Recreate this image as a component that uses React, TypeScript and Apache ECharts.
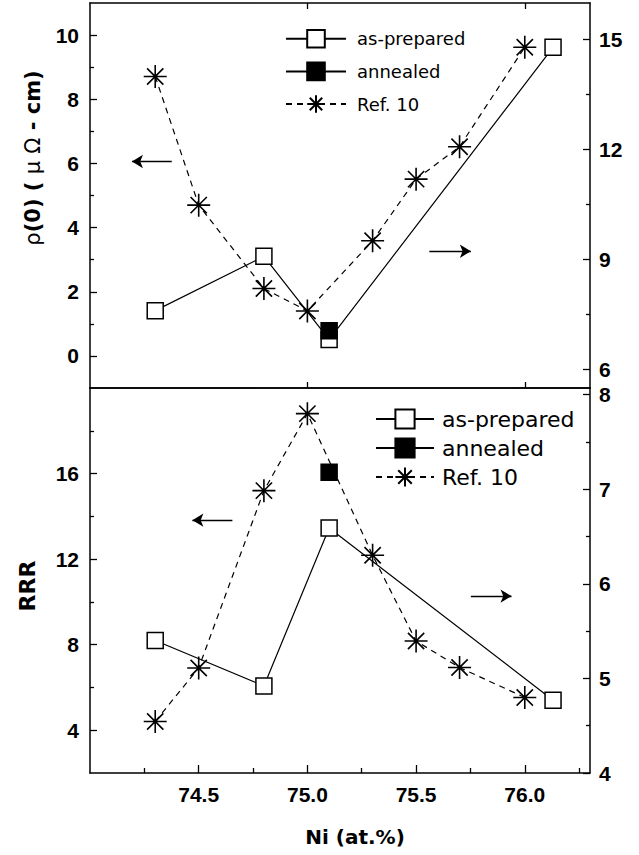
import React, { useEffect, useRef } from "react";
import * as echarts from "echarts";

// ---- data ----
const ref10X = [74.3, 74.5, 74.8, 75.0, 75.3, 75.5, 75.7, 76.0];
const ref10Rho = [8.71, 4.7, 2.1, 1.4, 3.59, 5.51, 6.52, 9.62];
const ref10RRR = [4.41, 6.91, 15.2, 18.8, 12.18, 8.17, 6.93, 5.53];

const prepX = [74.3, 74.8, 75.1, 76.13];
const prepRho = [7.61, 9.09, 6.82, 14.79]; // right axis (top)
const prepRRR = [5.4, 4.92, 6.59, 4.77]; // right axis (bottom)

const annX = [75.1];
const annRho = [7.06];
const annRRR = [7.18];

const xLabels = [74.5, 75.0, 75.5, 76.0];
const xMinor = [74.25, 74.75, 75.25, 75.75, 76.25];
const topXTicks = [75.0, 76.0];
const rhoLabels = [0, 2, 4, 6, 8, 10];
const rhoMinor = [1, 3, 5, 7, 9];
const rhoRightLabels = [6, 9, 12, 15];
const rhoRightMinor = [7.5, 10.5, 13.5];
const rrrLabels = [4, 8, 12, 16];
const rrrMinor = [6, 10, 14, 18];
const rrrRightLabels = [4, 5, 6, 7, 8];
const rrrRightMinor = [4.5, 5.5, 6.5, 7.5];

// arrows [x1, x2, y] (from tail to head)
const arrowTopLeft = [74.376, 74.193, 6.06];
const arrowTopRight = [75.561, 75.752, 9.23];
const arrowBotLeft = [74.655, 74.471, 13.82];
const arrowBotRight = [75.752, 75.939, 5.87];

const STAR = "path://M0,-1L0,1M-1,0L1,0M-0.7071,-0.7071L0.7071,0.7071M-0.7071,0.7071L0.7071,-0.7071";

const zip = (xs: number[], ys: number[]) => xs.map((x, i) => [x, ys[i]]);

const TICK_FONT = "Liberation Sans";
const TITLE_FONT = "DejaVu Sans";

function xAxisDef(grid: number, position: string, ticks: number[], len: number, labels: number[] | null, showLine: boolean) {
  return {
    type: "value",
    gridIndex: grid,
    position,
    min: 74,
    max: 76.3,
    axisLine: { show: showLine, onZero: false, lineStyle: { color: "#000", width: 1.5 } },
    axisTick: { show: ticks.length > 0, inside: true, length: len, customValues: ticks, lineStyle: { color: "#000", width: 1.3 } },
    axisLabel: labels
      ? {
          show: true,
          customValues: labels,
          margin: 11,
          color: "#000",
          fontFamily: TICK_FONT,
          fontWeight: "bold",
          fontSize: 21,
          formatter: (v: number) => v.toFixed(1),
        }
      : { show: false },
    splitLine: { show: false },
    minorTick: { show: false },
  };
}

function yAxisDef(grid: number, position: string, min: number, max: number, ticks: number[], len: number, labels: number[] | null, showLine: boolean) {
  return {
    type: "value",
    gridIndex: grid,
    position,
    min,
    max,
    axisLine: { show: showLine, onZero: false, lineStyle: { color: "#000", width: 1.5 } },
    axisTick: { show: true, inside: true, length: len, customValues: ticks, lineStyle: { color: "#000", width: 1.3 } },
    axisLabel: labels
      ? {
          show: true,
          customValues: labels,
          margin: position === "left" ? 11 : 9,
          color: "#000",
          fontFamily: TICK_FONT,
          fontWeight: "bold",
          fontSize: 21,
        }
      : { show: false },
    splitLine: { show: false },
    minorTick: { show: false },
  };
}

const prepStyle = {
  symbol: "rect",
  symbolSize: 16,
  itemStyle: { color: "#fff", borderColor: "#000", borderWidth: 1.5 },
  lineStyle: { color: "#000", width: 1.2, type: "solid" },
};
const annStyle = {
  symbol: "rect",
  symbolSize: 16,
  itemStyle: { color: "#000", borderColor: "#000", borderWidth: 1.5 },
  lineStyle: { color: "#000", width: 1.2, type: "solid" },
};
const refStyle = {
  symbol: STAR,
  symbolSize: 23,
  itemStyle: { color: "#000", borderColor: "#000", borderWidth: 1.6 },
  lineStyle: { color: "#000", width: 1.2, type: [6, 5] },
};

function arrowMark(a: number[]) {
  return {
    silent: true,
    symbol: ["none", "arrow"],
    symbolSize: [10, 11],
    label: { show: false },
    emphasis: { disabled: true },
    lineStyle: { color: "#000", width: 1.3, type: "solid" },
    data: [[{ coord: [a[0], a[2]] }, { coord: [a[1], a[2]] }]],
  };
}

export default function App() {
  const ref = useRef<HTMLDivElement>(null);
  useEffect(() => {
    if (!ref.current) return;
    const chart = echarts.init(ref.current, null, { renderer: "svg" });
    const option: any = {
      animation: false,
      backgroundColor: "#fff",
      grid: [
        { left: 90, top: 3, width: 500, height: 385 },
        { left: 90, top: 388, width: 500, height: 385 },
      ],
      xAxis: [
        xAxisDef(0, "bottom", topXTicks, 6, null, true),
        xAxisDef(0, "top", topXTicks, 6, null, true),
        xAxisDef(1, "bottom", xLabels, 8, xLabels, true),
        xAxisDef(1, "bottom", xMinor, 5, null, false),
        xAxisDef(1, "top", [], 0, null, true),
      ],
      yAxis: [
        yAxisDef(0, "left", -1, 11, rhoLabels, 7, rhoLabels, true),
        yAxisDef(0, "right", 5.5, 16, rhoRightLabels, 7, rhoRightLabels, true),
        yAxisDef(0, "left", -1, 11, rhoMinor, 4, null, false),
        yAxisDef(0, "right", 5.5, 16, rhoRightMinor, 4, null, false),
        yAxisDef(1, "left", 2, 20, rrrLabels, 7, rrrLabels, true),
        yAxisDef(1, "right", 4, 8.07, rrrRightLabels, 7, rrrRightLabels, true),
        yAxisDef(1, "left", 2, 20, rrrMinor, 4, null, false),
        yAxisDef(1, "right", 4, 8.07, rrrRightMinor, 4, null, false),
      ],
      legend: [
        {
          orient: "vertical",
          left: 280,
          top: 24,
          itemWidth: 60,
          itemHeight: 22,
          itemGap: 13,
          selectedMode: false,
          data: ["as-prepared", "annealed", "Ref. 10"],
          textStyle: { fontFamily: TITLE_FONT, fontSize: 18, color: "#000", padding: [0, 0, 0, 6] },
        },
        {
          orient: "vertical",
          left: 370,
          top: 403,
          itemWidth: 58,
          itemHeight: 24,
          itemGap: 7,
          selectedMode: false,
          data: ["as-prepared", "annealed", "Ref. 10"],
          textStyle: { fontFamily: TITLE_FONT, fontSize: 22, color: "#000", padding: [0, 0, 0, 3] },
        },
      ],
      series: [
        {
          name: "Ref. 10",
          type: "line",
          xAxisIndex: 0,
          yAxisIndex: 0,
          data: zip(ref10X, ref10Rho),
          ...refStyle,
          markLine: arrowMark(arrowTopLeft),
        },
        {
          name: "as-prepared",
          type: "line",
          xAxisIndex: 0,
          yAxisIndex: 1,
          data: zip(prepX, prepRho),
          ...prepStyle,
          markLine: arrowMark(arrowTopRight),
        },
        {
          name: "annealed",
          type: "line",
          xAxisIndex: 0,
          yAxisIndex: 1,
          data: zip(annX, annRho),
          ...annStyle,
        },
        {
          name: "Ref. 10",
          type: "line",
          xAxisIndex: 2,
          yAxisIndex: 4,
          data: zip(ref10X, ref10RRR),
          ...refStyle,
          markLine: arrowMark(arrowBotLeft),
        },
        {
          name: "as-prepared",
          type: "line",
          xAxisIndex: 2,
          yAxisIndex: 5,
          data: zip(prepX, prepRRR),
          ...prepStyle,
          markLine: arrowMark(arrowBotRight),
        },
        {
          name: "annealed",
          type: "line",
          xAxisIndex: 2,
          yAxisIndex: 5,
          data: zip(annX, annRRR),
          ...annStyle,
        },
      ],
      graphic: [
        {
          type: "text",
          x: 33,
          y: 158,
          rotation: Math.PI / 2,
          style: {
            text: "{n|ρ}(0) ( {n|μ} {n|Ω} - cm)",
            fontFamily: TITLE_FONT,
            fontWeight: "bold",
            fontSize: 21,
            fill: "#000",
            textAlign: "center",
            textVerticalAlign: "middle",
            rich: { n: { fontWeight: "normal", fontFamily: TITLE_FONT, fontSize: 21 } },
          },
        },
        {
          type: "text",
          x: 27,
          y: 586,
          rotation: Math.PI / 2,
          style: {
            text: "RRR",
            fontFamily: TITLE_FONT,
            fontWeight: "bold",
            fontSize: 22,
            fill: "#000",
            textAlign: "center",
            textVerticalAlign: "middle",
          },
        },
        {
          type: "text",
          x: 355,
          y: 837,
          style: {
            text: "Ni (at.%)",
            fontFamily: TITLE_FONT,
            fontWeight: "bold",
            fontSize: 20,
            fill: "#000",
            textAlign: "center",
            textVerticalAlign: "middle",
          },
        },
      ],
    };
    chart.setOption(option);
    return () => chart.dispose();
  }, []);
  return <div ref={ref} style={{ position: "fixed", left: 0, top: 0, width: 639, height: 855, background: "#fff" }} />;
}
